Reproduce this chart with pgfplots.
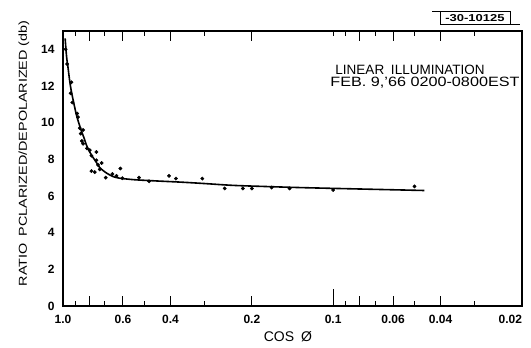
\documentclass[border=0pt]{standalone}
\usepackage{pgfplots}
\pgfplotsset{compat=1.18}
\usepackage{fontspec}
\setmainfont{Liberation Sans}
\begin{document}
\begin{tikzpicture}[x=1pt,y=1pt]
\path[use as bounding box] (0,0) rectangle (531,348);
\begin{axis}[
  at={(63pt,42pt)}, anchor=south west,
  scale only axis, width=459pt, height=275pt,
  xmode=log, x dir=reverse, xmin=0.02, xmax=1,
  ymin=0, ymax=15,
  axis line style={line width=1.4pt},
  every tick/.style={line width=1pt, black},
  tick align=inside,
  major tick length=10pt, minor tick length=5pt,
  xtick={1,0.8,0.6,0.4,0.2,0.08,0.06,0.04,0.02},
  xticklabels={1.0,,0.6,0.4,0.2,,0.06,0.04,\makebox[0pt][r]{0.02}},
  minor xtick={0.9,0.7,0.5,0.3,0.1,0.09,0.07,0.05,0.03},
  extra x ticks={0.1}, extra x tick labels={0.1},
  extra x tick style={major tick length=17pt, xtick pos=left},
  ytick={0,2,...,14}, yticklabels={0,2,4,6,8,10,12,14},
  ytick style={draw=none},
  minor ytick={1,2,...,14},
  xticklabel style={font=\bfseries\fontsize{12}{13}\selectfont, yshift=-6pt},
  yticklabel style={font=\bfseries\fontsize{12}{13}\selectfont, xshift=-5pt},
  xlabel={COS\enspace Ø},
  xlabel style={font=\fontsize{14}{16}\selectfont, at={(axis description cs:0.49,0)}, anchor=center, yshift=-31pt},
  ylabel={\scalebox{1.25}[1]{RATIO\enspace PCLARIZED/DEPOLARIZED (db)}},
  ylabel style={font=\fontsize{11.5}{13}\selectfont, at={(axis description cs:-0.085,0.555)}, anchor=center},
]
% fitted ratio curve
\addplot[smooth, line width=1.6pt, black] coordinates {
  (0.982,14.6) (0.970,13.6) (0.958,13.0) (0.945,12.3) (0.931,11.7)
  (0.910,11.0) (0.893,10.45) (0.875,10.0) (0.855,9.55) (0.835,9.15)
  (0.820,8.8) (0.800,8.45) (0.774,8.1) (0.750,7.8) (0.731,7.55)
  (0.705,7.35) (0.681,7.2) (0.650,7.05) (0.617,6.97) (0.575,6.92)
  (0.535,6.88) (0.450,6.82) (0.360,6.75) (0.300,6.68) (0.235,6.58)
  (0.180,6.52) (0.133,6.46) (0.090,6.40) (0.046,6.30)
};
% measured ratios
\addplot[only marks, mark=*, mark size=1.7pt, black] coordinates {
  (0.978,14.0) (0.966,13.2) (0.931,12.2) (0.937,11.6) (0.924,11.1)
  (0.887,10.5) (0.880,10.3) (0.867,9.7) (0.843,9.6) (0.860,9.4)
  (0.851,9.0) (0.843,8.85) (0.815,8.6) (0.796,8.5) (0.752,8.4)
  (0.785,8.2) (0.752,7.95) (0.742,7.7) (0.731,7.45) (0.720,7.8)
  (0.785,7.36) (0.763,7.3) (0.695,7.0) (0.656,7.2) (0.634,7.1)
  (0.613,7.5) (0.603,6.97) (0.523,7.0) (0.480,6.8) (0.405,7.1)
  (0.382,6.95) (0.305,6.95) (0.252,6.41) (0.216,6.41) (0.200,6.41)
  (0.169,6.46) (0.145,6.41) (0.100,6.33) (0.050,6.52)
};
\end{axis}
\node[font=\fontsize{13.5}{15}\selectfont] at (410,278) {LINEAR\enspace ILLUMINATION};
\node[font=\fontsize{13.5}{15}\selectfont] at (425,265) {\scalebox{1.2}[1]{FEB. 9,'66 0200-0800EST}};
\draw[line width=1pt] (440,323) rectangle (510,336);
\draw[line width=1pt] (432,336) -- (440,336) (510,323) -- (520,323);
\node[font=\bfseries\fontsize{10}{11}\selectfont] at (475,329.5) {\scalebox{1.3}[1]{-30-10125}};
\end{tikzpicture}
\end{document}
